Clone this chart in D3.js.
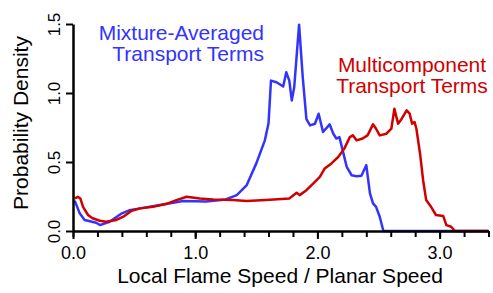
<!DOCTYPE html>
<html>
<head>
<meta charset="utf-8">
<title>Flame speed PDF</title>
<script src="https://cdn.jsdelivr.net/npm/d3@7"></script>
<style>
	body { margin: 0; background: #fff; }
	text { font-family: "Liberation Sans", Arial, sans-serif; }
</style>
</head>
<body>
<div id="chart"></div>
<script>

	// mixture-averaged transport (blue)
	var mix_x = [0.014, 0.055, 0.095, 0.19, 0.22, 0.30, 0.40, 0.46, 0.55, 0.71, 0.82, 0.90, 1.09, 1.25, 1.34, 1.42,
		1.50, 1.57, 1.60, 1.62, 1.665, 1.72, 1.745, 1.77, 1.79, 1.81, 1.85, 1.88, 1.91, 1.94, 1.98, 2.01, 2.046,
		2.10, 2.13, 2.155, 2.18, 2.21, 2.24, 2.28, 2.32, 2.36, 2.40, 2.43, 2.455, 2.48, 2.51, 2.54, 3.4];
	var mix_y = [0.22, 0.128, 0.08, 0.06, 0.043, 0.067, 0.128, 0.15, 0.164, 0.188, 0.204, 0.217, 0.214, 0.229, 0.26, 0.33,
		0.49, 0.657, 0.78, 1.09, 1.078, 1.047, 1.15, 1.09, 0.946, 1.04, 1.495, 1.114, 0.81, 0.765, 0.777, 0.85, 0.717,
		0.773, 0.705, 0.67, 0.68, 0.573, 0.464, 0.404, 0.397, 0.40, 0.477, 0.272, 0.2, 0.175, 0.103, 0.0, 0.0];

	// multicomponent transport (red)
	var multi_x = [0.014, 0.04, 0.06, 0.082, 0.123, 0.16, 0.22, 0.27, 0.355, 0.42, 0.48, 0.55, 0.655, 0.76, 0.846, 0.93,
		1.037, 1.146, 1.31, 1.42, 1.58, 1.77, 1.83, 1.855, 1.91, 1.965, 2.02, 2.06, 2.115, 2.17, 2.22, 2.265, 2.29,
		2.32, 2.37, 2.41, 2.455, 2.48, 2.51, 2.565, 2.605, 2.63, 2.66, 2.69, 2.73, 2.755, 2.775, 2.795, 2.81, 2.84,
		2.865, 2.89, 2.93, 2.97, 3.03, 3.055, 3.095, 3.125, 3.4];
	var multi_y = [0.236, 0.248, 0.236, 0.175, 0.116, 0.092, 0.074, 0.067, 0.08, 0.108, 0.147, 0.164, 0.175, 0.195, 0.224, 0.248,
		0.236, 0.229, 0.224, 0.217, 0.224, 0.236, 0.277, 0.26, 0.296, 0.344, 0.392, 0.453, 0.49, 0.536, 0.597, 0.68, 0.693,
		0.657, 0.67, 0.693, 0.773, 0.741, 0.693, 0.705, 0.741, 0.886, 0.778, 0.814, 0.874, 0.85, 0.778, 0.79, 0.741, 0.56,
		0.368, 0.224, 0.175, 0.116, 0.108, 0.043, 0.031, 0.0, 0.0];

	var x_ticks = [0, 1, 2, 3];
	var x_minor = d3.range(0, 3.41, 0.2);
	var y_ticks = [0, 0.5, 1.0, 1.5];

	var w = 493, h = 293;
	var x_off = 73, y_bot = 231;

	var svg = d3.select("#chart").append("svg")
		.attr("width", w)
		.attr("height", h);

	var x = d3.scaleLinear().domain([0, 3.4]).range([x_off, 488.5]);
	var y = d3.scaleLinear().domain([0, 1.5]).range([y_bot, 24]);

	var line = d3.line()
		.x(function(d) { return x(d[0]); })
		.y(function(d) { return y(d[1]); });

	svg.append("path")
		.datum(d3.zip(mix_x, mix_y))
		.attr("d", line)
		.attr("fill", "none")
		.attr("stroke", "#3333ff")
		.attr("stroke-width", 2.5)
		.attr("stroke-linejoin", "round");

	svg.append("path")
		.datum(d3.zip(multi_x, multi_y))
		.attr("d", line)
		.attr("fill", "none")
		.attr("stroke", "#d00000")
		.attr("stroke-width", 2.5)
		.attr("stroke-linejoin", "round");

	// x axis: minor ticks, then major ticks with labels
	svg.append("g")
		.attr("transform", "translate(0," + y_bot + ")")
		.call(d3.axisBottom(x).tickValues(x_minor).tickSize(6).tickFormat(""))
		.call(function(g) { g.select(".domain").remove(); })
		.selectAll("line").attr("stroke-width", 2);

	var xa = svg.append("g")
		.attr("transform", "translate(0," + y_bot + ")")
		.call(d3.axisBottom(x).tickValues(x_ticks).tickSize(8).tickSizeOuter(0).tickPadding(7).tickFormat(d3.format(".1f")));
	xa.select(".domain").attr("stroke-width", 2.5);
	xa.selectAll("line").attr("stroke-width", 2);
	xa.selectAll("text").attr("font-size", 18).attr("font-family", "Liberation Sans, Arial, sans-serif");

	var ya = svg.append("g")
		.attr("transform", "translate(" + x_off + ",0)")
		.call(d3.axisLeft(y).tickValues(y_ticks).tickSize(7).tickSizeOuter(0).tickFormat(d3.format(".1f")));
	ya.select(".domain").attr("stroke-width", 2.5);
	ya.selectAll("line").attr("stroke-width", 2);
	ya.selectAll("text")
		.attr("font-size", 17)
		.attr("font-family", "Liberation Sans, Arial, sans-serif")
		.attr("x", null).attr("dy", null)
		.attr("text-anchor", "middle")
		.attr("transform", "translate(-13,0) rotate(-90)");

	svg.append("text")
		.attr("x", 280)
		.attr("y", 283)
		.attr("font-size", 21)
		.attr("text-anchor", "middle")
		.text("Local Flame Speed / Planar Speed");

	svg.append("text")
		.attr("transform", "translate(28,123) rotate(-90)")
		.attr("font-size", 21)
		.attr("text-anchor", "middle")
		.text("Probability Density");

	var blue_lab = svg.append("text")
		.attr("font-size", 21)
		.attr("fill", "#3333ff")
		.attr("text-anchor", "end");
	blue_lab.append("tspan").attr("x", 264).attr("y", 40).text("Mixture-Averaged");
	blue_lab.append("tspan").attr("x", 264).attr("y", 61).text("Transport Terms");

	var red_lab = svg.append("text")
		.attr("font-size", 21)
		.attr("fill", "#d00000")
		.attr("text-anchor", "middle");
	red_lab.append("tspan").attr("x", 412).attr("y", 72).text("Multicomponent");
	red_lab.append("tspan").attr("x", 412).attr("y", 93).text("Transport Terms");

</script>
</body>
</html>
